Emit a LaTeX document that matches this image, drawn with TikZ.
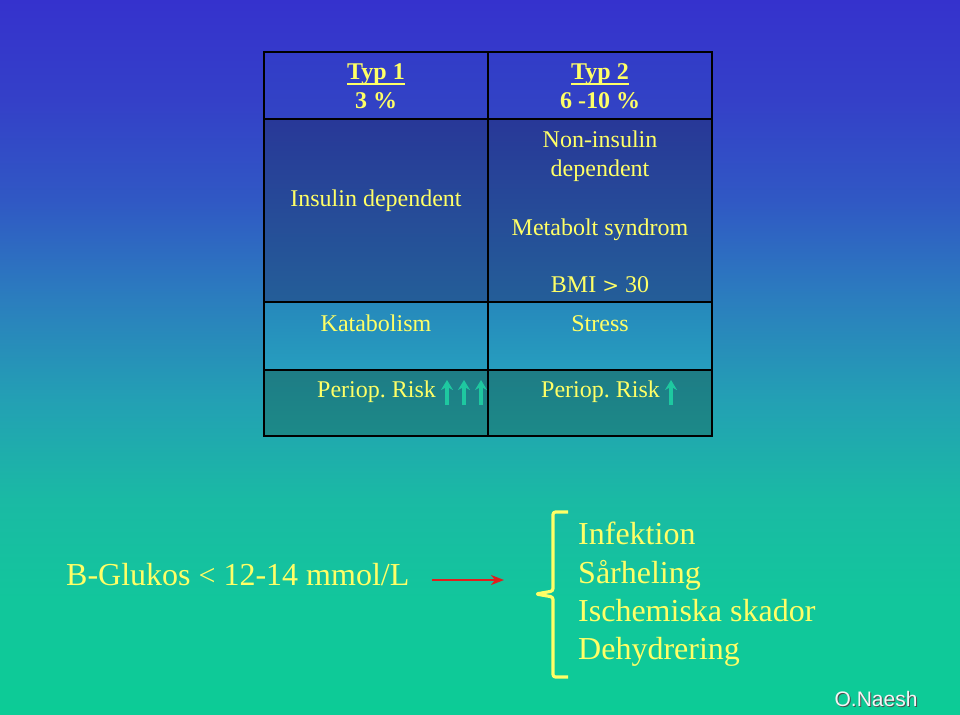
\documentclass[tikz,border=0pt]{standalone}
\usepackage{fontspec}
\setmainfont{Liberation Serif}
\newfontfamily\sansf{Liberation Sans}
\usetikzlibrary{arrows.meta}
\definecolor{bga}{RGB}{12,204,150}
\definecolor{bgb}{RGB}{18,198,156}
\definecolor{bgc}{RGB}{26,186,164}
\definecolor{bgd}{RGB}{35,160,180}
\definecolor{bge}{RGB}{43,126,190}
\definecolor{bgf}{RGB}{48,88,196}
\definecolor{bgg}{RGB}{52,64,200}
\definecolor{bgh}{RGB}{53,50,205}
\pgfdeclareverticalshading{bgshade}{100bp}{color(0bp)=(bga); color(25bp)=(bga); color(33bp)=(bgb); color(40bp)=(bgc); color(47bp)=(bgd); color(54bp)=(bge); color(61bp)=(bgf); color(68bp)=(bgg); color(75bp)=(bgh); color(100bp)=(bgh)}
\definecolor{txtyel}{RGB}{255,255,102}
\definecolor{arrteal}{RGB}{30,200,160}
\definecolor{arrred}{RGB}{225,30,30}
\definecolor{hdrtop}{RGB}{50,60,200}
\definecolor{hdrbot}{RGB}{50,68,196}
\definecolor{rtwotop}{RGB}{40,56,152}
\definecolor{rtwobot}{RGB}{36,94,152}
\definecolor{rthrtop}{RGB}{38,136,188}
\definecolor{rthrbot}{RGB}{38,158,190}
\definecolor{rfourtop}{RGB}{30,124,134}
\definecolor{rfourbot}{RGB}{28,138,136}
\tikzset{
  tbl/.style={font=\fontsize{24}{28}\selectfont, text=txtyel, anchor=base, inner sep=0pt},
  tblb/.style={tbl, font=\fontsize{24}{28}\selectfont\bfseries},
  big/.style={font=\fontsize{32}{38}\selectfont, text=txtyel, anchor=base west, inner sep=0pt},
  uparr/.style={draw=arrteal, line width=3.6pt, -{Stealth[length=10pt,width=12pt]}},
  gridline/.style={draw=black, line width=1.3pt},
}
\begin{document}
\frenchspacing
\begin{tikzpicture}[x=1pt,y=-1pt]
\useasboundingbox (0,0) rectangle (960,714);
% background
\shade[shading=bgshade] (0,0) rectangle (960,714);
% table fills
\shade[top color=hdrtop, bottom color=hdrbot] (264,52) rectangle (712,119);
\shade[top color=rtwotop, bottom color=rtwobot] (264,119) rectangle (712,302);
\shade[top color=rthrtop, bottom color=rthrbot] (264,302) rectangle (712,370);
\shade[top color=rfourtop, bottom color=rfourbot] (264,370) rectangle (712,436);
% grid
\draw[gridline] (264,52) rectangle (712,436);
\draw[gridline] (488,52) -- (488,436);
\draw[gridline, line width=2.2pt] (264,119) -- (712,119);
\draw[gridline] (264,302) -- (712,302);
\draw[gridline] (264,370) -- (712,370);
% header texts
\node[tblb] (t1) at (376,80) {Typ 1};
\node[tblb] (p1) at (376,109) {3 \%};
\node[tblb] (t2) at (600,80) {Typ 2};
\node[tblb] (p2) at (600,109) {6 -10 \%};
\draw[draw=txtyel, line width=1.6pt] (t1.base west) ++(0,4) -- ([yshift=-4pt]t1.base east);
\draw[draw=txtyel, line width=1.6pt] (t2.base west) ++(0,4) -- ([yshift=-4pt]t2.base east);
% body texts
\node[tbl] (ins) at (376,206) {Insulin dependent};
\node[tbl] (non) at (600,148) {Non-insulin};
\node[tbl] (dep) at (600,176) {dependent};
\node[tbl] (met) at (600,235) {Metabolt syndrom};
\node[tbl] (bmi) at (600,292) {BMI {\fontspec{DejaVu Serif}\fontsize{20}{24}\selectfont >} 30};
\node[tbl] (kat) at (376,331) {Katabolism};
\node[tbl] (str) at (600,331) {Stress};
\node[tbl, anchor=base west] (r1) at (317,397) {Periop. Risk};
\node[tbl, anchor=base west] (r2) at (541,397) {Periop. Risk};
% up arrows
\coordinate (a1b) at (447,405); \coordinate (a1t) at (447,380);
\coordinate (a2b) at (464,405); \coordinate (a2t) at (464,380);
\coordinate (a3b) at (481,405); \coordinate (a3t) at (481,380);
\coordinate (a4b) at (671,405); \coordinate (a4t) at (671,380);
\draw[uparr] (a1b) -- (a1t);
\draw[uparr] (a2b) -- (a2t);
\draw[uparr] (a3b) -- (a3t);
\draw[uparr] (a4b) -- (a4t);
% bottom left
\node[big] (glu) at (66,585) {B-Glukos {\fontsize{30}{36}\selectfont <} 12-14 mmol/L};
\coordinate (ra) at (432,580);
\coordinate (rb) at (504,580);
\draw[draw=arrred, line width=2.6pt, -{Stealth[length=13pt,width=10pt,inset=4pt]}] (ra) -- (rb);
% brace
\draw[draw=txtyel, line width=3.2pt, line join=round, rounded corners=2.5pt]
  (568,512) -- (553,512) -- (553,591) -- (536,594) -- (553,597) -- (553,677) -- (568,677);
% list
\node[big] (l1) at (578,544) {Infektion};
\node[big] (l2) at (578,583) {Sårheling};
\node[big] (l3) at (578,621) {Ischemiska skador};
\node[big] (l4) at (578,659) {Dehydrering};
% signature
\node[font=\sansf\fontsize{21}{24}\selectfont, text=black!70, anchor=base, inner sep=0pt] at (877,707) {O.Naesh};
\node[font=\sansf\fontsize{21}{24}\selectfont, text=white!92!gray, anchor=base, inner sep=0pt] (sig) at (876,706) {O.Naesh};
\end{tikzpicture}
\end{document}
